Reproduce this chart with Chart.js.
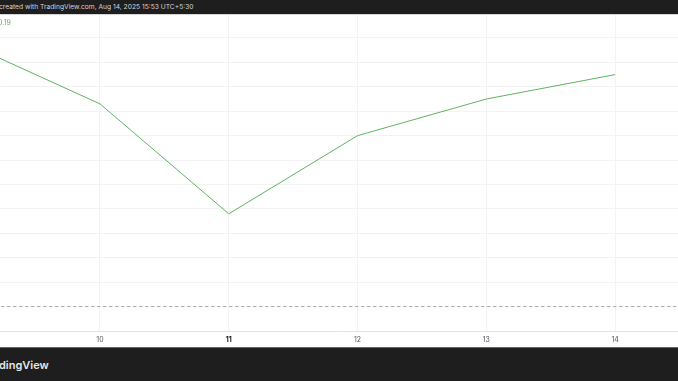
<!DOCTYPE html>
<html>
<head>
<meta charset="utf-8">
<script src="https://cdn.jsdelivr.net/npm/chart.js"></script>
<style>
  body { margin: 0; width: 678px; height: 381px; overflow: hidden; background: #fff; font-family: Inter, "Noto Sans", sans-serif; position: relative; }
  #top { position: absolute; left: 0; top: 0; width: 678px; height: 14px; background: #1e1e1e; border-bottom: 1px solid #d6d6d6; }
  #top span { position: absolute; left: -1px; top: 3px; font-size: 6.7px; line-height: 9px; color: #d1d4dc; white-space: nowrap; }
  #bottom { position: absolute; left: 0; top: 347px; width: 678px; height: 34px; background: #1e1e1e; border-top: 1px solid #666; }
  #bottom span { position: absolute; left: -1px; top: 10px; font-size: 11px; line-height: 14px; font-weight: 600; color: #e6e6e6; white-space: nowrap; }
  #wrap { position: absolute; left: 0; top: 15px; width: 678px; height: 332px; }
</style>
</head>
<body>
<div id="top"><span>created with TradingView.com, Aug 14, 2025 15:53 UTC+5:30</span></div>
<div id="wrap"><canvas id="myChart"></canvas></div>
<div id="bottom"><span>dingView</span></div>
<script>
const days = [9, 10, 11, 12, 13, 14];
const closes = [20.97, 20.73, 20.28, 20.60, 20.75, 20.85];
const baseline = 19.90;
const dayLabels = ["9", "10", "11", "12", "13", "14"];
const legendText = "0.19";

const ctx = document.getElementById("myChart");

const legendPlugin = {
  id: "legend019",
  afterDraw(chart) {
    const c = chart.ctx;
    c.save();
    c.font = "7px Inter, 'Noto Sans', sans-serif";
    c.fillStyle = "#5fb360";
    c.textBaseline = "middle";
    c.fillText(legendText, -2, 8);
    c.restore();
  }
};

new Chart(ctx, {
  type: "line",
  data: {
    datasets: [
      {
        data: days.map((d, i) => ({ x: d, y: closes[i] })),
        borderColor: "#5fb360",
        borderWidth: 1,
        pointRadius: 0,
        tension: 0,
      },
      {
        data: [{ x: days[0], y: baseline }, { x: days[days.length - 1] + 1, y: baseline }],
        borderColor: "#a3a6af",
        borderWidth: 1,
        borderDash: [3, 3],
        pointRadius: 0,
      },
    ],
  },
  plugins: [legendPlugin],
  options: {
    responsive: true,
    maintainAspectRatio: false,
    animation: false,
    layout: { padding: 0 },
    plugins: { legend: { display: false }, tooltip: { enabled: false } },
    scales: {
      x: {
        type: "linear",
        min: 9.2236,
        max: 14.488,
        afterBuildTicks: (s) => { s.ticks = days.filter(d => d >= s.min && d <= s.max).map(d => ({ value: d })); },
        afterFit: (s) => { s.height = 16; },
        ticks: {
          padding: 5,
          maxRotation: 0,
          callback: (v) => dayLabels[days.indexOf(v)],
          color: (c) => c.tick && c.tick.value === 11 ? "#131722" : "#50535e",
          font: (c) => ({ size: 7, weight: c.tick && c.tick.value === 11 ? "bold" : "normal", family: "Inter, 'Noto Sans', sans-serif" }),
        },
        grid: { color: "#f3f3f3", drawTicks: false },
        border: { color: "#e0e3eb" },
      },
      y: {
        position: "right",
        min: 19.8,
        max: 21.094,
        afterBuildTicks: (s) => {
          const t = [];
          for (let v = 19.9; v < 21.05; v += 0.1) t.push({ value: Math.round(v * 10) / 10 });
          s.ticks = t;
        },
        afterFit: (s) => { s.width = 0; },
        ticks: { display: false },
        grid: { color: "#f3f3f3", drawTicks: false },
        border: { display: false },
      },
    },
  },
});
</script>
</body>
</html>
